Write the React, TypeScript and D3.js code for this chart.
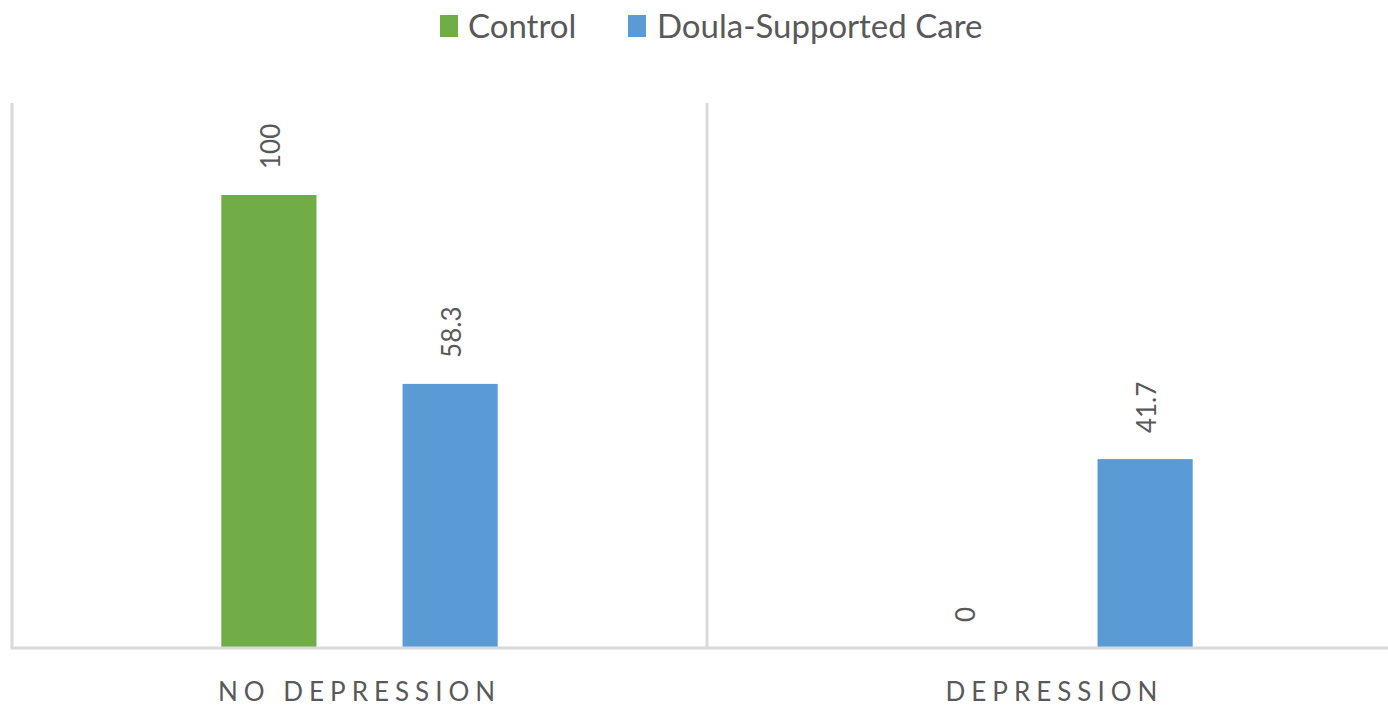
import React from "react";
import * as d3 from "d3";

const categories = ["NO DEPRESSION", "DEPRESSION"];
const seriesNames = ["Control", "Doula-Supported Care"];
const controlValues = [100, 0];
const doulaValues = [58.3, 41.7];
const valueLabels = [["100", "58.3"], ["0", "41.7"]];
const seriesColors = ["#70ad47", "#5b9bd5"];

const W = 1388;
const H = 708;
const plotLeft = 12;
const plotRight = 1402;
const plotTop = 103;
const plotBottom = 648;
const axisColor = "#d9d9d9";
const textColor = "#595959";
const font = "Lato, 'Open Sans', sans-serif";

export default function App() {
  const x0 = d3.scaleBand<string>().domain(categories).range([plotLeft, plotRight]).paddingInner(0).paddingOuter(0);
  const x1 = d3
    .scaleBand<string>()
    .domain(seriesNames)
    .range([0, x0.bandwidth()])
    .paddingInner(0.475)
    .paddingOuter(1.155);
  const y = d3.scaleLinear().domain([0, 100]).range([plotBottom, plotTop + 92]);

  const series = [controlValues, doulaValues];

  const legendItems = [
    { name: seriesNames[0], color: seriesColors[0], sx: 440, tx: 468 },
    { name: seriesNames[1], color: seriesColors[1], sx: 628, tx: 657 },
  ];

  return (
    <svg
      width={W}
      height={H}
      style={{ position: "absolute", left: 0, top: 0, background: "#fff" }}
      fontFamily={font}
    >
      <rect x={0} y={0} width={W} height={H} fill="#fff" />
      {legendItems.map((l) => (
        <g key={l.name}>
          <rect x={l.sx} y={15} width={18} height={22} fill={l.color} />
          <text x={l.tx} y={38} fontSize={33} fill={textColor}>
            {l.name}
          </text>
        </g>
      ))}
      <line x1={plotLeft} x2={plotLeft} y1={plotTop} y2={plotBottom} stroke={axisColor} strokeWidth={3} />
      {categories.slice(1).map((c) => (
        <line
          key={c}
          x1={x0(c)!}
          x2={x0(c)!}
          y1={plotTop}
          y2={plotBottom}
          stroke={axisColor}
          strokeWidth={3}
        />
      ))}
      {categories.map((c, ci) =>
        seriesNames.map((s, si) => {
          const v = series[si][ci];
          const bx = x0(c)! + x1(s)!;
          const by = y(v);
          const cx = bx + x1.bandwidth() / 2;
          return (
            <g key={c + s}>
              {v > 0 && (
                <rect x={bx} y={by} width={x1.bandwidth()} height={plotBottom - by} fill={seriesColors[si]} />
              )}
              <text
                transform={`translate(${cx + 11},${by - 26}) rotate(-90)`}
                fontSize={26}
                fill={textColor}
                textAnchor="start"
              >
                {valueLabels[ci][si]}
              </text>
            </g>
          );
        })
      )}
      <line x1={plotLeft - 1.5} x2={plotRight} y1={plotBottom} y2={plotBottom} stroke={axisColor} strokeWidth={3} />
      {categories.map((c) => (
        <text
          key={c}
          x={x0(c)! + x0.bandwidth() / 2}
          y={701}
          fontSize={26}
          letterSpacing={6}
          fill={textColor}
          textAnchor="middle"
        >
          {c}
        </text>
      ))}
    </svg>
  );
}
